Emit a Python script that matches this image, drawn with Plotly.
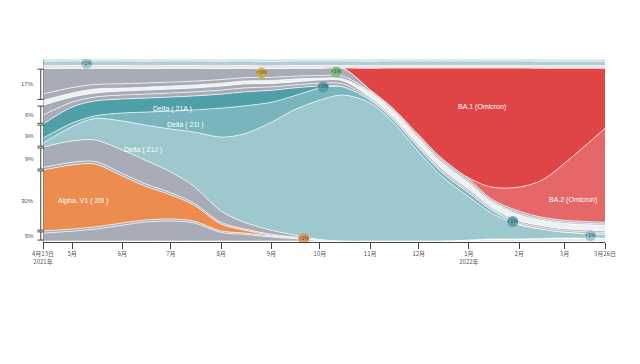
import plotly.graph_objects as go
import numpy as np
import pandas as pd

dates = ["2021-04-13", "2021-05-01", "2021-05-15", "2021-06-01", "2021-06-15", "2021-07-01",
         "2021-07-15", "2021-08-01", "2021-08-15", "2021-09-01", "2021-09-15", "2021-10-01",
         "2021-10-15", "2021-11-01", "2021-11-15", "2021-12-01", "2021-12-15", "2022-01-01",
         "2022-01-15", "2022-02-01", "2022-02-15", "2022-03-01", "2022-03-26"]

# shares (%) per date, stack order bottom -> top
pale_bottom = [0, 0, 0, 0, 0, 0, 0, 0, 0, 0, 0, 0, 0, 0, 0, 0, 0, 0.5, 1.1, 1.1, 1.4, 1.6, 1.6]
gray_bottom = [4.3, 5.4, 6.5, 8.7, 10.4, 11.0, 10.0, 4.7, 3.7, 2.2, 1.3, 0.4, 0, 0, 0, 0, 0, 0, 0, 0, 0, 0, 0]
gray_bottom_thin = [1.2, 1.2, 1.2, 1.2, 1.1, 1.1, 1.0, 0.8, 0.7, 0.5, 0.3, 0.1, 0, 0, 0, 0, 0, 0, 0, 0, 0, 0, 0]
alpha = [33.5, 35.2, 34.6, 25.8, 18.7, 13.2, 8.8, 3.8, 1.6, 0.5, 0.3, 0, 0, 0, 0, 0, 0, 0, 0, 0, 0, 0, 0]
gray_alpha_thin = [1.4, 1.4, 1.4, 1.4, 1.3, 1.2, 1.1, 0.9, 0.7, 0.5, 0.3, 0.1, 0, 0, 0, 0, 0, 0, 0, 0, 0, 0, 0]
gray_alpha = [11.2, 11.8, 11.8, 12.9, 13.0, 11.4, 9.3, 6.2, 3.7, 2.2, 1.1, 0.2, 0, 0, 0, 0, 0, 0, 0, 0, 0, 0, 0]
delta_21j = [2.2, 7.8, 11.8, 15.9, 19.2, 23.6, 29.7, 40.7, 48.4, 59.3, 68.7, 76.6, 80.2, 75.8, 65.4, 48.9, 35.7, 23.7, 14.3, 7.7, 5.2, 3.3, 2.2]
delta_21i = [2.7, 2.0, 1.4, 4.4, 7.1, 9.9, 12.1, 15.9, 15.4, 11.0, 7.7, 6.6, 4.6, 1.6, 1.6, 2.2, 2.2, 2.2, 1.6, 0.5, 0, 0, 0]
delta_21a = [7.7, 8.8, 8.2, 7.7, 7.7, 7.7, 7.7, 7.7, 7.7, 6.6, 4.4, 1.1, 0, 0, 0, 0, 0, 0, 0, 0, 0, 0, 0]
gray_mid1 = [5.0, 2.7, 2.2, 2.2, 2.2, 2.2, 2.2, 2.2, 2.2, 1.9, 1.6, 1.6, 1.6, 0.8, 0.8, 0.9, 1.0, 1.0, 0.8, 0.9, 0.9, 0.9, 0.9]
gray_mid2 = [5.4, 2.8, 2.2, 2.2, 2.2, 2.2, 2.2, 2.2, 2.2, 1.9, 1.7, 1.7, 1.7, 0.8, 0.8, 0.9, 1.0, 1.0, 0.8, 0.9, 0.9, 0.9, 0.9]
pale_band = [2.7, 2.2, 2.2, 1.6, 1.6, 1.6, 1.6, 1.6, 1.6, 1.6, 1.6, 1.1, 1.1, 2.6, 2.8, 3.3, 3.5, 3.5, 2.8, 3.3, 3.0, 3.0, 3.0]
gray_top1 = [3.5, 3.0, 2.5, 2.4, 2.3, 2.2, 2.1, 2.0, 1.8, 1.7, 1.5, 1.4, 1.4, 0.6, 0.6, 0.8, 0.9, 0.9, 0.6, 0.8, 0.7, 0.7, 0.7]
gray_top2 = [14.1, 10.7, 9.0, 8.6, 8.1, 7.7, 7.2, 6.2, 5.3, 4.9, 4.5, 4.1, 4.4, 0.9, 1.0, 1.2, 1.3, 1.3, 1.0, 1.2, 1.0, 1.0, 1.0]
ba2 = [0, 0, 0, 0, 0, 0, 0, 0, 0, 0, 0, 0, 0, 0, 0, 0, 0, 0.5, 6.6, 13.2, 20.3, 31.3, 51.6]
ba1 = [0, 0, 0, 0, 0, 0, 0, 0, 0, 0, 0, 0, 0, 11.8, 22.0, 36.8, 49.4, 60.4, 65.4, 65.4, 61.5, 52.2, 33.0]
top_pink = [1.4] * 23
top_teal = [2.5] * 23
top_gray = [1.1] * 23

tick_dates = ["2021-04-13", "2021-05-01", "2021-06-01", "2021-07-01", "2021-08-01", "2021-09-01",
              "2021-10-01", "2021-11-01", "2021-12-01", "2022-01-01", "2022-02-01", "2022-03-01", "2022-03-26"]
tick_labels = ["4月13日<br>2021年", "5月", "6月", "7月", "8月", "9月", "10月", "11月", "12月",
               "1月<br>2022年", "2月", "3月", "3月26日"]

GRAY = "#a8acb6"
layers = [
    ("pale_bottom", pale_bottom, "#e6edef"),
    ("gray_bottom", gray_bottom, GRAY),
    ("gray_bottom_thin", gray_bottom_thin, GRAY),
    ("alpha", alpha, "#ec8c4f"),
    ("gray_alpha_thin", gray_alpha_thin, GRAY),
    ("gray_alpha", gray_alpha, GRAY),
    ("21J", delta_21j, "#9dc8cd"),
    ("21I", delta_21i, "#79b5bd"),
    ("21A", delta_21a, "#4f9fa8"),
    ("gray_mid1", gray_mid1, GRAY),
    ("gray_mid2", gray_mid2, GRAY),
    ("pale_band", pale_band, "#eef1f3"),
    ("gray_top1", gray_top1, GRAY),
    ("gray_top2", gray_top2, GRAY),
    ("BA.2", ba2, "#e56767"),
    ("BA.1", ba1, "#e04545"),
    ("top_pink", top_pink, "#f6dcdc"),
    ("top_teal", top_teal, "#a9d1d6"),
    ("top_gray", top_gray, "#d3d6dc"),
]

fig = go.Figure()
for name, vals, color in layers:
    fig.add_trace(go.Scatter(
        x=dates, y=vals, stackgroup="one", mode="lines", name=name,
        line=dict(color="white", width=0.7, shape="spline", smoothing=0.9),
        fillcolor=color, hoverinfo="skip", showlegend=False))

# cumulative positions for bubbles / brackets
names = [l[0] for l in layers]
arr = np.array([l[1] for l in layers], dtype=float)
cum_top = np.cumsum(arr, axis=0)
cum_bot = cum_top - arr
dnum = (pd.to_datetime(dates) - pd.Timestamp(dates[0])).days.values


def mid_at(series, date):
    k = names.index(series)
    d = (pd.Timestamp(date) - pd.Timestamp(dates[0])).days
    return float(np.interp(d, dnum, (cum_top[k] + cum_bot[k]) / 2))


bubbles = [
    ("top_teal", "2021-05-10", "#93c3c9"),
    ("gray_top2", "2021-08-26", "#d6a83c"),
    ("21A", "2021-10-03", "#4d9ba4"),
    ("gray_top2", "2021-10-11", "#7dba70"),
    ("alpha", "2021-09-21", "#e8884a"),
    ("21I", "2022-01-28", "#4f9ca5"),
    ("21J", "2022-03-17", "#8cc0c6"),
]
for s, d, c in bubbles:
    fig.add_trace(go.Scatter(
        x=[d], y=[mid_at(s, d)], mode="markers+text",
        marker=dict(size=11, color=c, opacity=0.85, line=dict(width=0)),
        text=["<1%"], textposition="middle center",
        textfont=dict(size=5, color="#2f4a4e", family="Liberation Sans"),
        hoverinfo="skip", showlegend=False))

# left brackets
groups = [
    ("5%", ["gray_bottom", "gray_bottom_thin"]),
    ("30%", ["alpha"]),
    ("9%", ["gray_alpha_thin", "gray_alpha"]),
    ("9%", ["21J", "21I", "21A"]),
    ("6%", ["gray_mid1", "gray_mid2"]),
    ("17%", ["gray_top1", "gray_top2"]),
]
shapes = []
annotations = []
for lab, mem in groups:
    ks = [names.index(m) for m in mem]
    y0 = cum_bot[min(ks)][0] + 0.5
    y1 = cum_top[max(ks)][0] - 0.5
    shapes.append(dict(type="line", xref="paper", yref="y", x0=-0.004, x1=-0.004, y0=y0, y1=y1,
                       line=dict(color="#444", width=1)))
    for yy in (y0, y1):
        shapes.append(dict(type="line", xref="paper", yref="y", x0=-0.010, x1=0.002, y0=yy, y1=yy,
                           line=dict(color="#444", width=1)))
    annotations.append(dict(xref="paper", yref="y", x=-0.013, y=(y0 + y1) / 2, text=lab,
                            showarrow=False, xanchor="right", yanchor="middle",
                            font=dict(size=6, color="#555", family="Liberation Sans")))

shapes.append(dict(type="line", xref="x", yref="paper", x0=dates[0], x1=dates[0], y0=0, y1=1,
                   line=dict(color="#666", width=0.8)))

labels = [
    ("Alpha, V1 ( 20I )", "2021-05-08", 22.0),
    ("Delta ( 21J )", "2021-06-14", 50.0),
    ("Delta ( 21A )", "2021-07-02", 72.5),
    ("Delta ( 21I )", "2021-07-10", 63.7),
    ("BA.1 (Omicron)", "2022-01-09", 73.6),
    ("BA.2 (Omicron)", "2022-03-06", 22.5),
]
for t, d, y in labels:
    annotations.append(dict(x=d, y=y, text=t, showarrow=False,
                            font=dict(size=7, color="white", family="Liberation Sans")))

# the page body has an 8px default margin, so the figure is sized and offset to compensate
fig.update_layout(
    width=632, height=356,
    margin=dict(l=35, r=35, t=51, b=122),
    paper_bgcolor="white", plot_bgcolor="white",
    shapes=shapes, annotations=annotations,
    xaxis=dict(type="date", range=[dates[0], dates[-1]], showgrid=False, zeroline=False,
               showline=True, linecolor="#444", linewidth=1,
               ticks="outside", ticklen=6, tickcolor="#444", tickwidth=1,
               tickvals=tick_dates, ticktext=tick_labels,
               tickfont=dict(size=6, color="#555", family="Noto Sans CJK SC")),
    yaxis=dict(range=[-0.55, 100], visible=False, showgrid=False, zeroline=False),
)

fig.write_html("out.html")
